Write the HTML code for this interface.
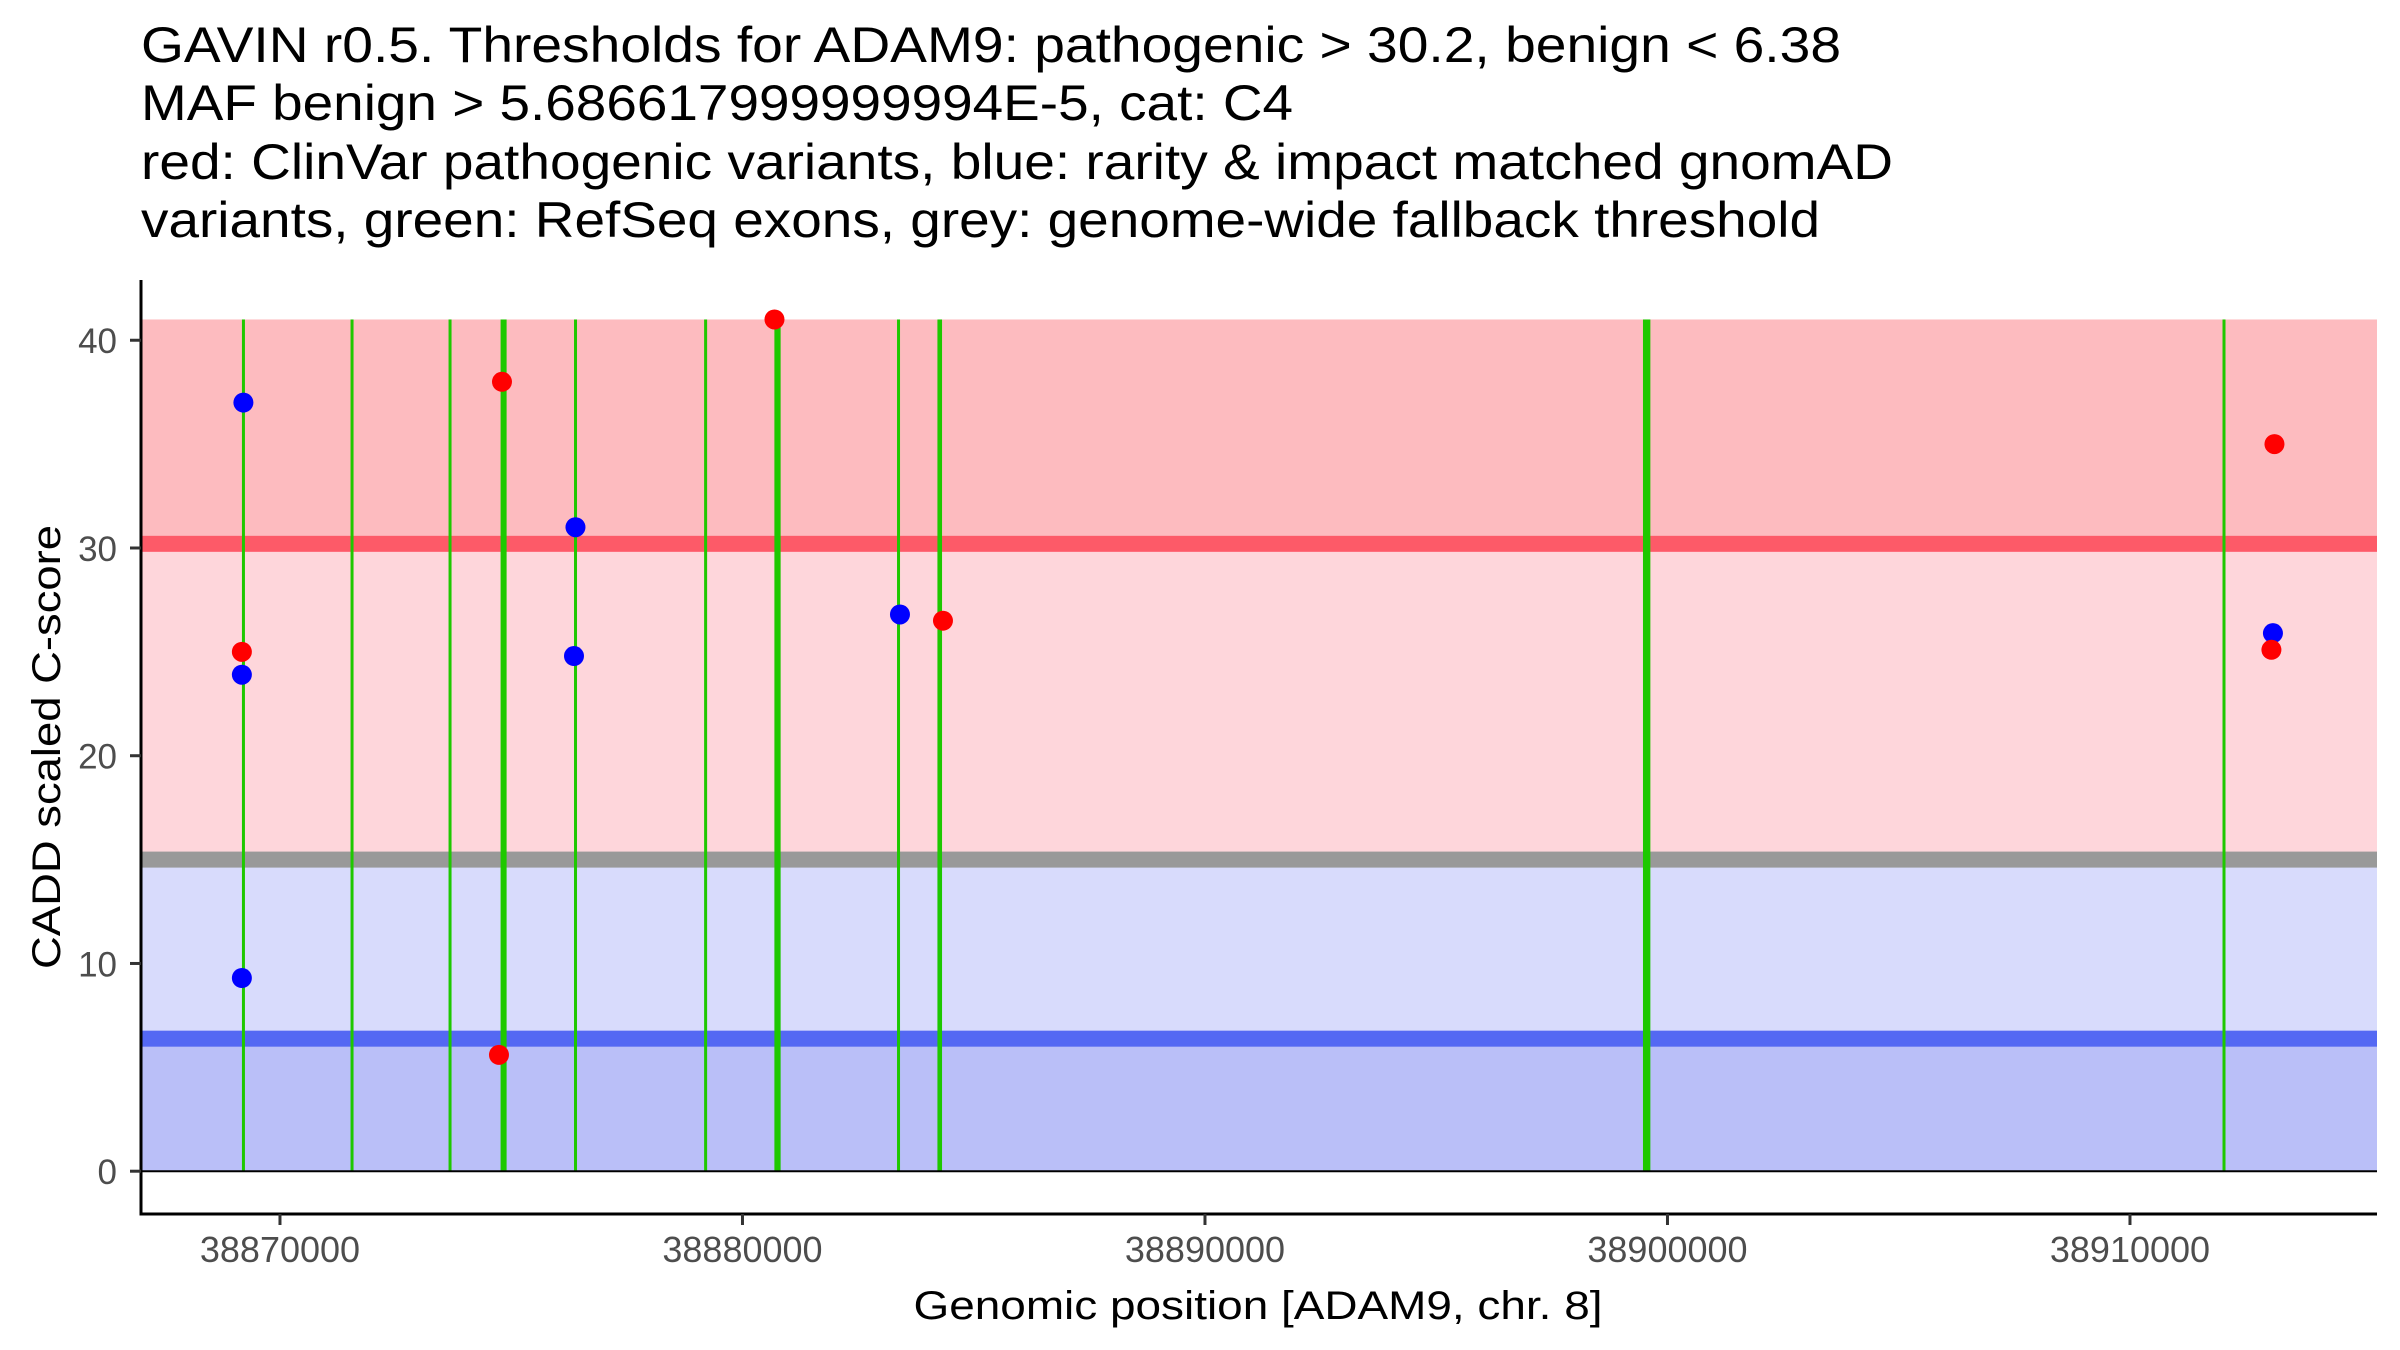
<!DOCTYPE html>
<html><head><meta charset="utf-8"><style>
html,body{margin:0;padding:0;background:#fff;}
svg{display:block;font-family:"Liberation Sans",Arial,sans-serif;}
</style></head><body>
<svg id="chart" width="2400" height="1350" viewBox="0 0 2400 1350" xmlns="http://www.w3.org/2000/svg">
<g font-size="50" fill="#000">
<text x="141" y="62" textLength="1700" lengthAdjust="spacingAndGlyphs">GAVIN r0.5. Thresholds for ADAM9: pathogenic &gt; 30.2, benign &lt; 6.38</text>
<text x="141" y="120" textLength="1152" lengthAdjust="spacingAndGlyphs">MAF benign &gt; 5.686617999999994E-5, cat: C4</text>
<text x="141" y="179" textLength="1752" lengthAdjust="spacingAndGlyphs">red: ClinVar pathogenic variants, blue: rarity &amp; impact matched gnomAD</text>
<text x="141" y="237" textLength="1679" lengthAdjust="spacingAndGlyphs">variants, green: RefSeq exons, grey: genome-wide fallback threshold</text>
</g>
<g id="bands"></g>
<g id="exons"></g>
<g id="points"></g>
<g id="axes"></g>
<text transform="translate(60,747) rotate(-90)" text-anchor="middle" font-size="40" textLength="444" lengthAdjust="spacingAndGlyphs">CADD scaled C-score</text>
<text x="1258" y="1319" text-anchor="middle" font-size="40" textLength="689" lengthAdjust="spacingAndGlyphs">Genomic position [ADAM9, chr. 8]</text>
</svg>
<script>
const xDomain = [38866995, 38915341];
const yDomain = [-2.06, 42.9];
const xTicks = [38870000, 38880000, 38890000, 38900000, 38910000];
const yTicks = [0, 10, 20, 30, 40];
const pathogenicThreshold = 30.2;
const benignThreshold = 6.38;
const fallbackThreshold = 15;
const bandTop = 41;
const exonStarts = [38869180, 38871528, 38873647, 38874770, 38876360, 38879173, 38880690, 38883344, 38884215, 38899470, 38912003];
const exonEnds   = [38869240, 38871588, 38873707, 38874900, 38876420, 38879233, 38880825, 38883404, 38884315, 38899630, 38912063];
const redX = [38869176, 38874800, 38874735, 38880692, 38884335, 38913124, 38913058];
const redY = [25.0, 38.0, 5.6, 41.0, 26.5, 35.0, 25.1];
const blueX = [38869209, 38869176, 38869176, 38876389, 38876357, 38883405, 38913091];
const blueY = [37.0, 23.9, 9.3, 31.0, 24.8, 26.8, 25.9];

const L=141, R=2377, T=280, B=1214;
const sx = v => L + (v - xDomain[0]) / (xDomain[1] - xDomain[0]) * (R - L);
const sy = v => B - (v - yDomain[0]) / (yDomain[1] - yDomain[0]) * (B - T);
const NS = "http://www.w3.org/2000/svg";
function mk(tag, attrs, parent){const e=document.createElementNS(NS,tag);for(const k in attrs)e.setAttribute(k,attrs[k]);parent.appendChild(e);return e;}

const bands=document.getElementById('bands');
function band(y0,y1,fill,name){const r=mk('rect',{x:L,width:R-L,y:sy(y1),height:sy(y0)-sy(y1),fill:fill},bands);

}
band(pathogenicThreshold,bandTop,'#fdbbbf','pathogenic-band');
band(fallbackThreshold,pathogenicThreshold,'#fed6db','intermediate-band');
band(benignThreshold,fallbackThreshold,'#d8dbfc','uncertain-benign-band');
band(0,benignThreshold,'#babff8','benign-band');
function hline(v,color,name){const r=mk('rect',{x:L,width:R-L,y:sy(v)-8,height:16,fill:color},bands);

}
hline(pathogenicThreshold,'#fd5a68','pathogenic-threshold-line');
hline(fallbackThreshold,'#999999','fallback-threshold-line');
hline(benignThreshold,'#5468f3','benign-threshold-line');

const ex=document.getElementById('exons');
for(let i=0;i<exonStarts.length;i++){
  const x0=sx(exonStarts[i]), x1=sx(exonEnds[i]);
  const w=Math.max(3,x1-x0);
  const r=mk('rect',{x:(x0+x1)/2-w/2,width:w,y:sy(bandTop),height:sy(0)-sy(bandTop),fill:'#1ec800'},ex);
  
  
}

const pts=document.getElementById('points');
for(let i=0;i<blueX.length;i++){
  const c=mk('circle',{cx:sx(blueX[i]),cy:sy(blueY[i]),r:10,fill:'#0000ff'},pts);
  
  
}
for(let i=0;i<redX.length;i++){
  const c=mk('circle',{cx:sx(redX[i]),cy:sy(redY[i]),r:10,fill:'#ff0000'},pts);
  
  
}

const ax=document.getElementById('axes');
const hz=mk('line',{x1:L,x2:R,y1:sy(0),y2:sy(0),stroke:'#000','stroke-width':2},ax);


const yl=mk('line',{x1:L,x2:L,y1:T,y2:B+1.5,stroke:'#000','stroke-width':3},ax);


const xl=mk('line',{x1:L-1.5,x2:R,y1:B,y2:B,stroke:'#000','stroke-width':3},ax);


yTicks.forEach(v=>{
  const y=sy(v);
  mk('line',{x1:L-11,x2:L,y1:y,y2:y,stroke:'#333','stroke-width':3},ax);
  const t=mk('text',{x:L-24,y:y+13,'text-anchor':'end','font-size':35,fill:'#4d4d4d'},ax);
  t.textContent=v;
  
  
});
xTicks.forEach(v=>{
  const x=sx(v);
  mk('line',{x1:x,x2:x,y1:B,y2:B+11,stroke:'#333','stroke-width':3},ax);
  const t=mk('text',{x:x,y:B+48,'text-anchor':'middle','font-size':36,fill:'#4d4d4d'},ax);
  t.textContent=v;
  
  
});
</script>
</body></html>
